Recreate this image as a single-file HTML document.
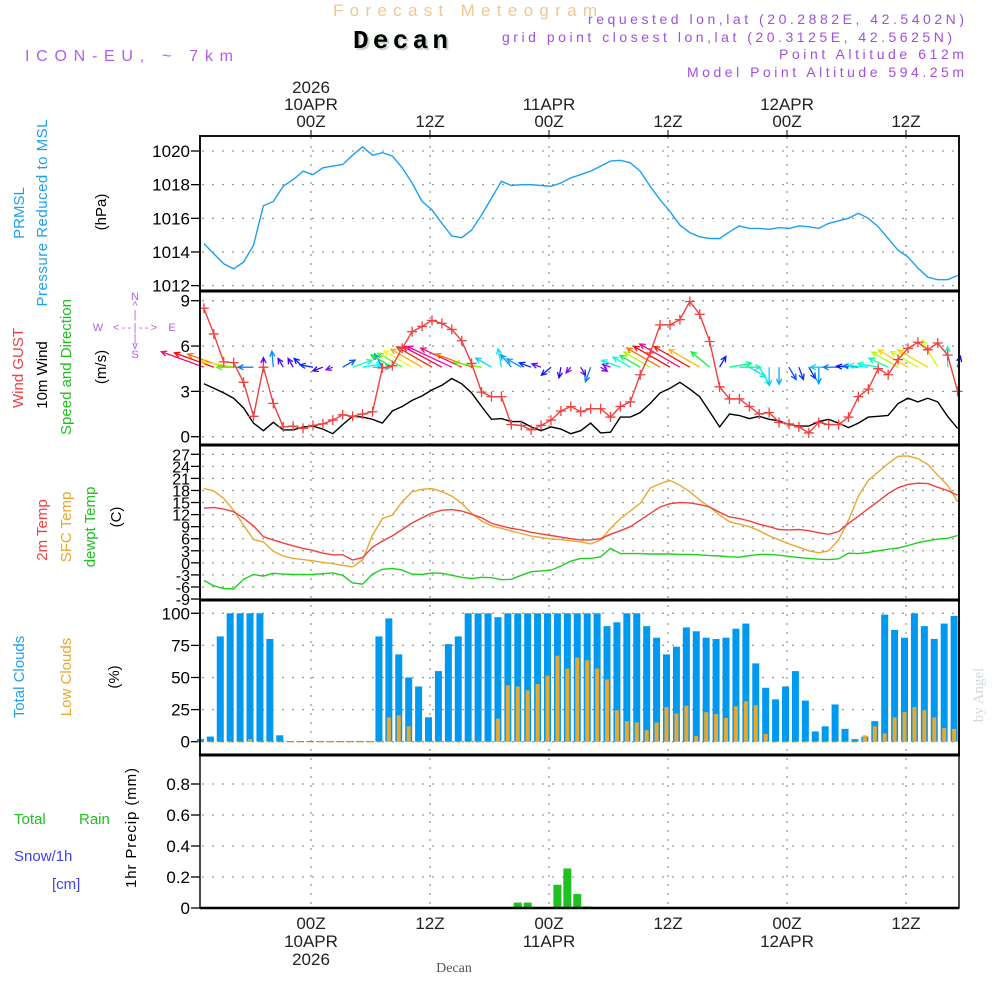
<!DOCTYPE html>
<html><head><meta charset="utf-8"><title>Forecast Meteogram - Decan</title>
<style>
html,body{margin:0;padding:0;background:#fff;}
svg{display:block;font-family:"Liberation Sans",sans-serif;}
</style></head>
<body>
<svg id="chart" width="1000" height="1000" viewBox="0 0 1000 1000">
<rect x="0" y="0" width="1000" height="1000" fill="#fff"/>
<text x="333" y="16" font-size="17" fill="#f0c890" textLength="264">Forecast Meteogram</text>
<text x="355" y="50" font-size="26" font-weight="bold" fill="#c8d8c8" font-family="Liberation Mono,monospace" textLength="95">Decan</text>
<text x="353" y="48" font-size="26" font-weight="bold" fill="#000" font-family="Liberation Mono,monospace" textLength="95">Decan</text>
<text x="25" y="61" font-size="16" fill="#b060e8" textLength="208">ICON-EU, ~ 7km</text>
<g fill="#a050e0" font-size="14" text-anchor="end">
<text x="964" y="24" textLength="376">requested lon,lat (20.2882E, 42.5402N)</text>
<text x="952" y="42" textLength="450">grid point closest lon,lat (20.3125E, 42.5625N)</text>
<text x="964" y="59" textLength="185">Point Altitude 612m</text>
<text x="964" y="77" textLength="277">Model Point Altitude 594.25m</text>
</g>
<g id="axes"></g>
<g id="grid"></g>
<g id="marks"></g>
<g id="frames"></g>
<g font-size="15">
<text transform="translate(24,213) rotate(-90)" text-anchor="middle" fill="#1ea0f0">PRMSL</text>
<text transform="translate(47,213) rotate(-90)" text-anchor="middle" fill="#1ea0f0" textLength="187">Pressure Reduced to MSL</text>
<text transform="translate(106,212) rotate(-90)" text-anchor="middle" fill="#000">(hPa)</text>
<text transform="translate(23,368) rotate(-90)" text-anchor="middle" fill="#f04040">Wind GUST</text>
<text transform="translate(47,375) rotate(-90)" text-anchor="middle" fill="#000">10m Wind</text>
<text transform="translate(71,367) rotate(-90)" text-anchor="middle" fill="#20c020">Speed and Direction</text>
<text transform="translate(106,367) rotate(-90)" text-anchor="middle" fill="#000">(m/s)</text>
<text transform="translate(47,530) rotate(-90)" text-anchor="middle" fill="#f04040">2m Temp</text>
<text transform="translate(71,527) rotate(-90)" text-anchor="middle" fill="#e8a830">SFC Temp</text>
<text transform="translate(95,527) rotate(-90)" text-anchor="middle" fill="#20c020">dewpt Temp</text>
<text transform="translate(121,517) rotate(-90)" text-anchor="middle" fill="#000">(C)</text>
<text transform="translate(24,677) rotate(-90)" text-anchor="middle" fill="#1ea0f0">Total Clouds</text>
<text transform="translate(71,677) rotate(-90)" text-anchor="middle" fill="#e8a830">Low Clouds</text>
<text transform="translate(119,677) rotate(-90)" text-anchor="middle" fill="#000">(%)</text>
<text transform="translate(136,828) rotate(-90)" text-anchor="middle" fill="#000" textLength="120">1hr Precip (mm)</text>
<text x="14" y="824" fill="#20c020">Total</text>
<text x="79" y="824" fill="#20c020">Rain</text>
<text x="14" y="861" fill="#4040f0">Snow/1h</text>
<text x="52" y="889" fill="#4040f0">[cm]</text>
</g>
<g fill="#b060e8" font-size="11" text-anchor="middle">
<text x="135" y="300">N</text><text x="135" y="309">^</text><text x="135" y="318">|</text>
<text x="98" y="331">W</text><text x="135" y="331" textLength="44">&lt;--|--&gt;</text><text x="172" y="331">E</text>
<text x="135" y="342">|</text><text x="135" y="349">v</text><text x="135" y="358">S</text>
</g>
<text transform="translate(983,695) rotate(-90)" text-anchor="middle" font-size="15" fill="#d0dcd0" font-family="Liberation Serif,serif">by Angel</text>
<text x="454" y="972" text-anchor="middle" font-size="14" fill="#555" font-family="Liberation Serif,serif">Decan</text>
</svg>
<script>
const hourLabels = [0, 12, 24, 36, 48, 60];
const topLabels = [["2026","10APR","00Z"],["","","12Z"],["","11APR","00Z"],["","","12Z"],["","12APR","00Z"],["","","12Z"]];
const bottomLabels = [["00Z","10APR","2026"],["12Z","",""],["00Z","11APR",""],["12Z","",""],["00Z","12APR",""],["12Z","",""]];
const pressureTicks = [1012, 1014, 1016, 1018, 1020];
const windTicks = [0, 3, 6, 9];
const tempTicks = [27, 24, 21, 18, 15, 12, 9, 6, 3, 0, -3, -6, -9];
const cloudTicks = [0, 25, 50, 75, 100];
const precipTicks = [0, 0.2, 0.4, 0.6, 0.8];
const lineStart = -10.8;
const barStart = -11.15;
const pressure = [1014.5,1013.9,1013.3,1013.0,1013.4,1014.4,1016.75,1017.0,1017.9,1018.3,1018.8,1018.6,1019.0,1019.1,1019.2,1019.75,1020.25,1019.75,1019.9,1019.7,1019.0,1018.1,1017.0,1016.5,1015.7,1014.95,1014.85,1015.3,1016.2,1017.2,1018.2,1017.95,1018.0,1018.0,1017.95,1017.9,1018.1,1018.4,1018.6,1018.8,1019.1,1019.4,1019.45,1019.3,1018.8,1017.9,1017.1,1016.4,1015.6,1015.15,1014.9,1014.8,1014.8,1015.2,1015.55,1015.4,1015.4,1015.35,1015.45,1015.4,1015.55,1015.5,1015.4,1015.7,1015.85,1016.0,1016.3,1016.0,1015.5,1014.8,1014.1,1013.7,1013.05,1012.5,1012.35,1012.35,1012.6];
const wind10 = [3.5,3.2,2.9,2.55,1.9,0.9,0.4,0.95,0.45,0.45,0.65,0.7,0.5,0.2,0.8,1.35,1.3,1.15,0.9,1.7,2.0,2.4,2.7,3.1,3.4,3.85,3.5,2.9,2.0,1.15,1.2,1.0,1.0,0.65,0.4,0.65,0.5,0.2,0.4,0.9,0.25,0.3,1.3,1.3,1.6,2.2,2.9,3.2,3.6,3.15,2.65,1.65,0.65,1.5,1.4,1.2,1.35,1.15,1.05,0.8,0.7,0.7,1.0,1.15,0.9,0.6,0.9,1.3,1.35,1.4,2.2,2.55,2.3,2.55,2.3,1.35,0.55];
const gust = [8.5,6.8,4.95,4.9,3.6,1.35,4.6,2.2,0.65,0.7,0.55,0.75,0.85,1.1,1.45,1.35,1.5,1.65,4.55,4.7,5.85,6.95,7.3,7.7,7.5,7.1,6.35,4.85,2.95,2.65,2.65,0.8,0.75,0.45,0.75,1.1,1.7,2.0,1.65,1.85,1.85,1.3,2.0,2.3,4.1,5.55,7.4,7.4,7.75,8.95,8.1,6.3,3.3,2.5,2.5,2.0,1.5,1.6,0.95,0.85,0.65,0.25,0.95,0.8,0.8,1.3,2.65,3.15,4.5,4.1,5.1,5.85,6.25,5.75,6.2,5.4,3.0];
const windDir = [160,160,160,170,180,180,90,95,120,120,135,170,200,200,30,20,10,0,120,150,150,150,150,150,152,155,155,160,170,150,100,130,150,160,160,220,260,230,300,250,330,160,160,150,150,150,150,150,150,150,150,140,60,10,0,330,300,270,270,300,290,300,270,180,180,175,175,175,170,155,150,150,150,150,120,90,75];
const temp2m = [13.6,13.8,13.4,12.7,11.1,9.2,6.5,5.7,4.9,4.25,3.6,3.1,2.4,2.0,2.0,0.7,1.3,3.9,5.4,6.7,8.3,9.9,11.2,12.4,13.1,13.25,12.9,12.1,11.2,9.8,9.2,8.6,8.2,7.6,7.2,6.8,6.4,6.0,5.7,5.7,6.0,7.1,8.0,9.0,10.6,12.3,13.9,14.7,15.0,14.9,14.5,13.9,12.6,11.4,11.0,10.4,9.6,9.0,8.3,8.2,8.3,8.0,7.5,7.1,7.8,9.8,11.6,13.5,15.3,17.2,18.7,19.5,19.8,19.7,18.8,18.0,16.8];
const tempSfc = [18.5,17.9,16.0,13.1,9.4,5.8,5.2,2.9,1.7,1.1,0.8,0.5,0.1,-0.2,-0.6,-1.0,0.7,6.9,11.0,11.9,15.2,17.7,18.3,18.5,17.7,16.6,14.8,12.3,10.4,9.2,8.6,7.9,7.3,6.7,6.3,5.9,5.8,5.5,5.2,4.7,5.7,8.6,11.0,12.9,14.8,18.6,19.7,20.5,19.3,17.7,15.6,13.9,11.9,10.2,9.6,9.0,8.0,6.7,5.7,4.7,3.9,3.0,2.5,3.0,5.7,10.6,16.6,20.5,22.6,24.7,26.5,26.6,25.9,24.5,21.8,19.3,15.2];
const dewpt = [-4.4,-5.7,-6.4,-6.5,-4.1,-2.9,-3.3,-2.6,-2.8,-2.9,-2.9,-2.9,-2.7,-2.5,-3.1,-5.0,-5.3,-2.8,-1.6,-1.4,-1.8,-2.8,-2.9,-2.5,-2.6,-3.1,-3.6,-3.9,-3.6,-3.7,-4.2,-4.1,-3.1,-2.2,-2.0,-1.8,-0.8,0.4,1.1,1.1,1.5,3.6,2.3,2.3,2.3,2.2,2.2,2.2,2.1,2.1,2.0,1.8,1.7,1.5,1.4,1.8,2.1,2.1,1.9,1.6,1.3,1.1,0.9,0.8,1.0,2.4,2.3,2.6,3.0,3.4,3.7,4.3,5.0,5.5,5.9,6.1,6.8];
const totalClouds = [2,4,82,100,100,100,100,80,5,0.5,0.5,0.5,0.5,0.5,0.5,0.5,0.5,0.5,82,96,68,50,43,19,55,76,82,100,100,100,97,100,100,100,100,100,100,100,100,100,100,90,93,100,100,90,81,68,74,89,86,81,80,81,88,92,61,42,33,43,55,32,8,12,29,10,2,4,16,99,87,81,100,90,80,92,98];
const lowClouds = [0,0,0,0,0,2,0,0,0,0,0,0,0,0,0,0,0,0,0,19,20.5,12,0,0,0,0,0,0,0,0,18,44,43,40,45,51.5,67,57,65.5,63.5,57,48.5,24.5,16,15,9,15,27,22,28,4.5,23,21.5,18.5,27.5,31.5,28.5,6,0,0,0,0,0,0,0,0,0,5,12,6.5,19,23,27,24.5,19,10.6,10];
const precipIndex = [32, 33, 36, 37, 38, 39];
const precip = [0.035, 0.035, 0.15, 0.255, 0.09, 0.01];

const NS = "http://www.w3.org/2000/svg";
const X0 = 200, X1 = 959;
const xOf = h => 311 + h * 119 / 12;
const yP = p => 151 + (1020 - p) * 16.83;
const yW = w => 436.7 - w * 15.11;
const yT = t => 454.3 + (27 - t) * 4.02;
const yC = c => 741.7 - c * 1.284;
const yR = r => 908 - r * 155;
const panels = [[136,291],[291,445],[445,600],[600,755],[755,908]];

function mk(tag, attrs, parent) {
  const el = document.createElementNS(NS, tag);
  for (const k in attrs) el.setAttribute(k, attrs[k]);
  parent.appendChild(el);
  return el;
}
const axes = document.getElementById('axes');
const grid = document.getElementById('grid');
const marks = document.getElementById('marks');
const frames = document.getElementById('frames');

hourLabels.forEach((h, i) => {
  const x = xOf(h);
  topLabels[i].forEach((s, j) => {
    if (!s) return;
    const t = mk('text', {x: x, y: 93 + j * 17, 'text-anchor': 'middle', 'font-size': 17, fill: '#222'}, axes);
    t.textContent = s;
    
    
  });
  bottomLabels[i].forEach((s, j) => {
    if (!s) return;
    const t = mk('text', {x: x, y: 929 + j * 18, 'text-anchor': 'middle', 'font-size': 17, fill: '#222'}, axes);
    t.textContent = s;
    
    
  });
  const tk = mk('line', {x1: x, x2: x, y1: 130, y2: 136, stroke: '#000'}, axes);
  
  
  const v = mk('line', {x1: x, x2: x, y1: 137, y2: 907, stroke: '#999', 'stroke-width': 1.3, 'stroke-dasharray': '2,7'}, grid);
  
  
});

function yTicks(ticks, yf, fmt, fs, name) {
  ticks.forEach(v => {
    const y = yf(v);
    const t = mk('text', {x: 190, y: y + 6, 'text-anchor': 'end', 'font-size': fs, fill: '#000'}, axes);
    t.textContent = fmt(v);
    
    
    const tk = mk('line', {x1: 191, x2: 200, y1: y, y2: y, stroke: '#000', 'stroke-width': 1.3}, axes);
    
    
    const g = mk('line', {x1: 202, x2: 958, y1: y, y2: y, stroke: '#999', 'stroke-width': 1.3, 'stroke-dasharray': '2,8'}, grid);
    
    
  });
}
yTicks(pressureTicks, yP, v => String(v), 17, 'pressure-tick-label');
yTicks(windTicks, yW, v => String(v), 17, 'wind-tick-label');
yTicks(tempTicks, yT, v => String(v), 16, 'temp-tick-label');
yTicks(cloudTicks, yC, v => String(v), 17, 'cloud-tick-label');
yTicks(precipTicks, yR, v => v === 0 ? '0' : v.toFixed(1), 17, 'precip-tick-label');

function line(vals, yf, color, name) {
  const pts = vals.map((v, i) => xOf(lineStart + i).toFixed(1) + ',' + yf(v).toFixed(1)).join(' ');
  const p = mk('polyline', {points: pts, fill: 'none', stroke: color, 'stroke-width': 1.4}, marks);
  
  
}
line(pressure, yP, '#1ea0f0', 'pressure-line');
line(wind10, yW, '#000', 'wind-10m-line');

function speedColor(s) {
  const stops = [[0.3,270],[0.7,230],[1.2,185],[1.8,115],[2.4,60],[2.8,35],[3.2,0],[3.7,-40]];
  let h = 270;
  if (s <= stops[0][0]) h = 270;
  else if (s >= stops[stops.length-1][0]) h = -40;
  else for (let i = 0; i < stops.length - 1; i++) {
    if (s >= stops[i][0] && s <= stops[i+1][0]) {
      const f = (s - stops[i][0]) / (stops[i+1][0] - stops[i][0]);
      h = stops[i][1] + f * (stops[i+1][1] - stops[i][1]);
    }
  }
  return 'hsl(' + ((h + 360) % 360) + ',95%,50%)';
}
windDir.forEach((d, i) => {
  const s = wind10[i];
  const x = xOf(lineStart + i), y = yW(4.6);
  const L = 5 + s * 11.5;
  const r = d * Math.PI / 180;
  const x2 = x + L * Math.cos(r), y2 = y - L * Math.sin(r);
  const c = speedColor(s);
  const a1 = r + Math.PI - 0.45, a2 = r + Math.PI + 0.45;
  const pts = `${(x2 + 6*Math.cos(a1)).toFixed(1)},${(y2 - 6*Math.sin(a1)).toFixed(1)} ${x2.toFixed(1)},${y2.toFixed(1)} ${(x2 + 6*Math.cos(a2)).toFixed(1)},${(y2 - 6*Math.sin(a2)).toFixed(1)}`;
  const g = mk('g', {stroke: c, 'stroke-width': 1.3, fill: 'none'}, marks);
  
  
  mk('line', {x1: x, y1: y, x2: x2, y2: y2}, g);
  mk('polyline', {points: pts}, g);
});
line(gust, yW, '#f04040', 'wind-gust-line');
gust.forEach((v, i) => {
  const x = xOf(lineStart + i), y = yW(v);
  const m = mk('path', {d: `M${x-5},${y}h10M${x},${y-5}v10`, stroke: '#f04040', 'stroke-width': 1.3}, marks);
  
  
});

line(tempSfc, yT, '#e8a830', 'sfc-temp-line');
line(temp2m, yT, '#f04040', 'temp-2m-line');
line(dewpt, yT, '#20d020', 'dewpoint-line');

totalClouds.forEach((v, i) => {
  const x = xOf(barStart + i);
  const b = mk('rect', {x: x - 3.5, y: yC(v), width: 7, height: Math.max(0.8, yC(0) - yC(v)), fill: '#0099f0'}, marks);
  
  
});
lowClouds.forEach((v, i) => {
  const x = xOf(barStart + i);
  const b = mk('rect', {x: x - 2, y: yC(v), width: 4, height: Math.max(0.8, yC(0) - yC(v)), fill: '#e8a830'}, marks);
  
  
});
precip.forEach((v, k) => {
  const x = xOf(barStart + precipIndex[k]);
  const b = mk('rect', {x: x - 4, y: yR(v), width: 8, height: yR(0) - yR(v), fill: '#20c020'}, marks);
  
  
});

panels.forEach((p, i) => {
  const r = mk('rect', {x: X0, y: p[0], width: X1 - X0, height: p[1] - p[0], fill: 'none', stroke: '#111', 'stroke-width': i === 4 ? 1.5 : 2}, frames);
  
  
});
[291, 445, 600, 755].forEach(y => {
  const l = mk('line', {x1: X0 - 1, x2: X1 + 1, y1: y, y2: y, stroke: '#000', 'stroke-width': 3}, frames);
  
  
});
const base = mk('line', {x1: X0, x2: X1, y1: 908, y2: 908, stroke: '#000', 'stroke-width': 2.5}, frames);


</script>
</body></html>
